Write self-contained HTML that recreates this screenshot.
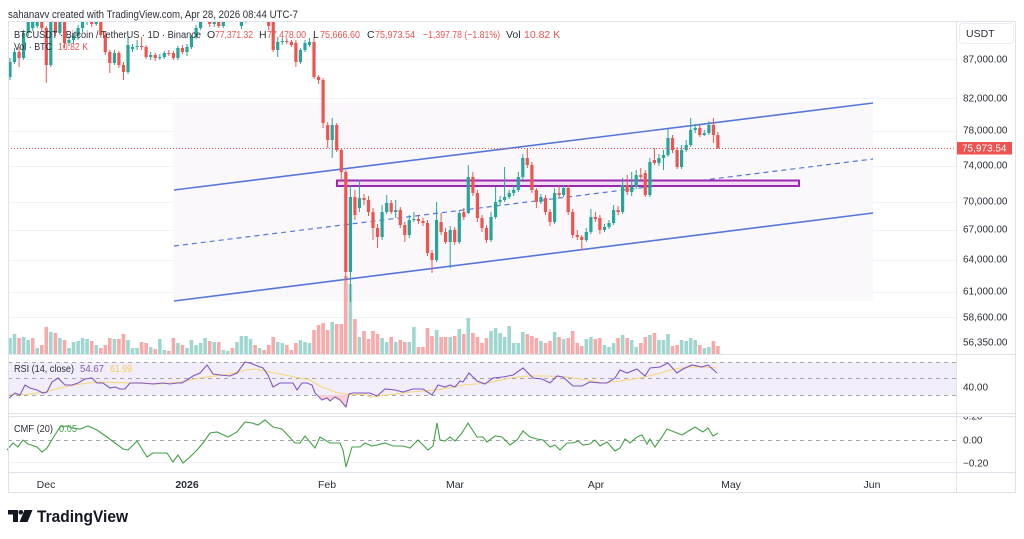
<!DOCTYPE html>
<html><head><meta charset="utf-8"><style>
html,body{margin:0;padding:0;background:#fff;}
svg{display:block;}
text{font-family:"Liberation Sans",Arial,sans-serif;}
</style></head><body>
<svg width="1024" height="539" viewBox="0 0 1024 539" xmlns="http://www.w3.org/2000/svg">
<defs>
<clipPath id="mp"><rect x="8" y="21.5" width="948" height="332.5"/></clipPath>
<clipPath id="cmfax"><rect x="957" y="417" width="60" height="55"/></clipPath>
</defs>
<rect width="1024" height="539" fill="#fff"/>
<text x="8" y="18" font-size="11" fill="#2a2e39" textLength="290" lengthAdjust="spacingAndGlyphs">sahanavv created with TradingView.com, Apr 28, 2026 08:44 UTC-7</text>

<!-- grid -->
<g stroke="#f0f3fa" stroke-width="1">
<path d="M8 59.5H956M8 98.5H956M8 131.5H956M8 166.5H956M8 202.5H956M8 230.5H956M8 260.5H956M8 292.5H956M8 317.5H956M8 462.5H956"/>
</g>

<g clip-path="url(#mp)">
<rect x="173" y="103" width="700" height="198" fill="#fbf8fc"/>
<!-- volume -->
<path fill="#9fd6d0" d="M8.2 338h3.6V354h-3.6zM12.7 334h3.6V354h-3.6zM21.8 337h3.6V354h-3.6zM26.4 340h3.6V354h-3.6zM35.4 348h3.6V354h-3.6zM49 332h3.6V354h-3.6zM58.1 338h3.6V354h-3.6zM67.2 348h3.6V354h-3.6zM71.7 342h3.6V354h-3.6zM76.3 341h3.6V354h-3.6zM80.8 338h3.6V354h-3.6zM85.3 339h3.6V354h-3.6zM94.4 345h3.6V354h-3.6zM112.6 339h3.6V354h-3.6zM126.2 340h3.6V354h-3.6zM130.7 348h3.6V354h-3.6zM135.3 348h3.6V354h-3.6zM148.9 347h3.6V354h-3.6zM158 339h3.6V354h-3.6zM162.5 350h3.6V354h-3.6zM176.1 343h3.6V354h-3.6zM185.2 348h3.6V354h-3.6zM189.7 340h3.6V354h-3.6zM194.3 345h3.6V354h-3.6zM198.8 343h3.6V354h-3.6zM203.3 338h3.6V354h-3.6zM212.4 342h3.6V354h-3.6zM221.5 350h3.6V354h-3.6zM226 351h3.6V354h-3.6zM235.1 342h3.6V354h-3.6zM239.6 336h3.6V354h-3.6zM244.2 336h3.6V354h-3.6zM248.7 339h3.6V354h-3.6zM257.8 348h3.6V354h-3.6zM275.9 342h3.6V354h-3.6zM280.5 343h3.6V354h-3.6zM298.6 340h3.6V354h-3.6zM303.2 342h3.6V354h-3.6zM307.7 343h3.6V354h-3.6zM330.4 322h3.6V354h-3.6zM348.6 284h3.6V354h-3.6zM357.6 337h3.6V354h-3.6zM380.3 338h3.6V354h-3.6zM384.9 342h3.6V354h-3.6zM393.9 342h3.6V354h-3.6zM407.5 342h3.6V354h-3.6zM412.1 327h3.6V354h-3.6zM434.8 330h3.6V354h-3.6zM448.4 337h3.6V354h-3.6zM457.5 329h3.6V354h-3.6zM466.5 318h3.6V354h-3.6zM489.2 331h3.6V354h-3.6zM493.8 328h3.6V354h-3.6zM498.3 333h3.6V354h-3.6zM502.8 337h3.6V354h-3.6zM507.4 326h3.6V354h-3.6zM511.9 343h3.6V354h-3.6zM516.5 343h3.6V354h-3.6zM521 332h3.6V354h-3.6zM539.1 341h3.6V354h-3.6zM552.8 332h3.6V354h-3.6zM561.8 339h3.6V354h-3.6zM584.5 339h3.6V354h-3.6zM589.1 337h3.6V354h-3.6zM602.7 345h3.6V354h-3.6zM607.2 347h3.6V354h-3.6zM611.8 343h3.6V354h-3.6zM620.8 335h3.6V354h-3.6zM629.9 340h3.6V354h-3.6zM634.4 347h3.6V354h-3.6zM648.1 335h3.6V354h-3.6zM657.1 340h3.6V354h-3.6zM661.7 340h3.6V354h-3.6zM666.2 334h3.6V354h-3.6zM679.8 340h3.6V354h-3.6zM684.4 341h3.6V354h-3.6zM688.9 338h3.6V354h-3.6zM693.4 340h3.6V354h-3.6zM702.5 348h3.6V354h-3.6zM707.1 347h3.6V354h-3.6z"/>
<path fill="#f7aaa9" d="M17.3 338h3.6V354h-3.6zM30.9 338h3.6V354h-3.6zM40 345h3.6V354h-3.6zM44.5 327h3.6V354h-3.6zM53.6 333h3.6V354h-3.6zM62.7 340h3.6V354h-3.6zM89.9 341h3.6V354h-3.6zM99 348h3.6V354h-3.6zM103.5 345h3.6V354h-3.6zM108 338h3.6V354h-3.6zM117.1 339h3.6V354h-3.6zM121.7 334h3.6V354h-3.6zM139.8 342h3.6V354h-3.6zM144.3 343h3.6V354h-3.6zM153.4 349h3.6V354h-3.6zM167 351h3.6V354h-3.6zM171.6 338h3.6V354h-3.6zM180.6 345h3.6V354h-3.6zM207.9 341h3.6V354h-3.6zM216.9 342h3.6V354h-3.6zM230.6 348h3.6V354h-3.6zM253.3 345h3.6V354h-3.6zM262.3 350h3.6V354h-3.6zM266.9 345h3.6V354h-3.6zM271.4 337h3.6V354h-3.6zM285 345h3.6V354h-3.6zM289.6 350h3.6V354h-3.6zM294.1 343h3.6V354h-3.6zM312.2 330h3.6V354h-3.6zM316.8 325h3.6V354h-3.6zM321.3 323h3.6V354h-3.6zM325.9 330h3.6V354h-3.6zM334.9 324h3.6V354h-3.6zM339.5 324h3.6V354h-3.6zM344 276h3.6V354h-3.6zM353.1 319h3.6V354h-3.6zM362.2 331h3.6V354h-3.6zM366.7 339h3.6V354h-3.6zM371.2 331h3.6V354h-3.6zM375.8 334h3.6V354h-3.6zM389.4 337h3.6V354h-3.6zM398.5 340h3.6V354h-3.6zM403 342h3.6V354h-3.6zM416.6 347h3.6V354h-3.6zM421.2 347h3.6V354h-3.6zM425.7 328h3.6V354h-3.6zM430.2 336h3.6V354h-3.6zM439.3 337h3.6V354h-3.6zM443.8 337h3.6V354h-3.6zM452.9 336h3.6V354h-3.6zM462 334h3.6V354h-3.6zM471.1 333h3.6V354h-3.6zM475.6 337h3.6V354h-3.6zM480.2 343h3.6V354h-3.6zM484.7 338h3.6V354h-3.6zM525.5 334h3.6V354h-3.6zM530.1 336h3.6V354h-3.6zM534.6 338h3.6V354h-3.6zM543.7 343h3.6V354h-3.6zM548.2 341h3.6V354h-3.6zM557.3 337h3.6V354h-3.6zM566.4 338h3.6V354h-3.6zM570.9 331h3.6V354h-3.6zM575.5 343h3.6V354h-3.6zM580 346h3.6V354h-3.6zM593.6 339h3.6V354h-3.6zM598.1 338h3.6V354h-3.6zM616.3 338h3.6V354h-3.6zM625.4 338h3.6V354h-3.6zM639 343h3.6V354h-3.6zM643.5 337h3.6V354h-3.6zM652.6 333h3.6V354h-3.6zM670.7 346h3.6V354h-3.6zM675.3 345h3.6V354h-3.6zM698 345h3.6V354h-3.6zM711.6 341h3.6V354h-3.6zM716.1 346h3.6V354h-3.6z"/>

<!-- channel -->
<path d="M174 190L873 103M174 301L873 213" stroke="#5477db" stroke-width="1.6" fill="none"/>
<path d="M174 246L873 159" stroke="#5477db" stroke-width="1.2" stroke-dasharray="5 4" fill="none"/>
<rect x="337" y="180.5" width="462" height="5.5" fill="#f3dcf4" stroke="#9c27b0" stroke-width="2"/>

<!-- wicks -->
<path stroke="#26a69a" stroke-width="1" fill="none" d="M10 58V80M14.5 48V64M23.6 30V60M28.2 10V36M32.7 16V31M37.2 8V28M50.8 12V67M59.9 18V35M69 36V46M73.5 33V44M78.1 25V40M82.6 18V32M87.1 10V25M96.2 12V26M114.4 50V65M128 37V74M132.5 44V52M137.1 40V50M150.7 52V60M159.8 54V60M164.3 51V59M177.9 46V60M187 44V56M191.5 35V49M196.1 25V39M200.6 15V30M205.1 8V22M214.2 16V27M223.3 10V28M227.8 4V18M236.9 2V15M241.4 16V29M246 8V23M250.5 2V15M259.6 0V12M277.7 38V57M282.3 38V45M300.4 48V64M305 40V52M309.5 38V47M332.2 118V158M350.4 185V302M359.4 180V212M382.1 205V240M386.7 195V214M395.7 200V218M409.3 215V238M413.9 212V222M436.6 202V262M450.2 226V268M459.3 210V244M468.3 165V214M491 212V242M495.6 187V219M500.1 196V205M504.6 167V202M509.2 190V199M513.7 186V196M518.3 172V192M522.8 154V180M540.9 194V204M554.6 188V224M563.6 185V197M586.3 228V242M590.9 209V234M604.5 224V232M609 220V229M613.6 205V225M622.6 178V214M631.7 172V196M636.2 170V189M649.9 158V197M658.9 154V166M663.5 150V170M668 129V157M681.6 145V169M686.2 140V152M690.7 118V147M695.2 124V133M704.3 130V136M708.9 121V135"/>
<path stroke="#ef5350" stroke-width="1" fill="none" d="M19.1 47V67M41.8 10V31M46.3 26V83M55.4 15V36M64.5 20V48M91.7 12V27M100.8 14V38M105.3 32V55M109.8 50V73M118.9 51V68M123.5 62V80M141.6 37V50M146.1 45V59M155.2 53V61M168.8 50V56M173.4 51V60M182.4 45V54M209.7 10V27M218.7 16V28M232.4 4V16M255.1 2V14M264.1 0V12M268.7 6V30M273.2 12V52M286.8 38V44M291.4 40V47M295.9 40V67M314 37V79M318.6 75V84M323.1 78V128M327.7 122V148M336.7 123V152M341.3 148V182M345.8 170V280M354.9 190V220M364 194V205M368.5 196V216M373 208V240M377.6 224V248M391.2 200V214M400.3 207V228M404.8 222V242M418.4 215V224M423 218V226M427.5 220V256M432 250V273M441.1 213V235M445.6 228V244M454.7 227V245M463.8 208V220M472.9 172V196M477.4 190V222M482 215V232M486.5 225V243M527.3 148V168M531.9 162V193M536.4 188V208M545.5 195V215M550 209V226M559.1 186V198M568.2 185V215M572.7 209V238M577.3 230V240M581.8 235V250M595.4 212V222M599.9 215V234M618.1 206V215M627.2 175V195M640.8 168V180M645.3 170V197M654.4 148V165M672.5 135V153M677.1 147V169M699.8 125V137M713.4 118V143M717.9 132V149"/>
<!-- bodies -->
<path fill="#26a69a" d="M8.4 62h3.2V77h-3.2zM12.9 52h3.2V62h-3.2zM22 33h3.2V58h-3.2zM26.6 18h3.2V33h-3.2zM31.1 21h3.2V28h-3.2zM35.6 14h3.2V26h-3.2zM49.2 18h3.2V65h-3.2zM58.3 22h3.2V33h-3.2zM67.4 40h3.2V43h-3.2zM71.9 36h3.2V40h-3.2zM76.5 28h3.2V36h-3.2zM81 22h3.2V28h-3.2zM85.5 15h3.2V22h-3.2zM94.6 16h3.2V24h-3.2zM112.8 53h3.2V63h-3.2zM126.4 45h3.2V72h-3.2zM130.9 47h3.2V49h-3.2zM135.5 46h3.2V47h-3.2zM149.1 55h3.2V57h-3.2zM158.2 57h3.2V58h-3.2zM162.7 53h3.2V57h-3.2zM176.3 48h3.2V58h-3.2zM185.4 47h3.2V52h-3.2zM189.9 37h3.2V47h-3.2zM194.5 28h3.2V37h-3.2zM199 19h3.2V28h-3.2zM203.5 14h3.2V19h-3.2zM212.6 20h3.2V24h-3.2zM221.7 14h3.2V26h-3.2zM226.2 8h3.2V14h-3.2zM235.3 6h3.2V12h-3.2zM239.8 20h3.2V26h-3.2zM244.4 12h3.2V20h-3.2zM248.9 6h3.2V12h-3.2zM258 4h3.2V10h-3.2zM276.1 42h3.2V50h-3.2zM280.7 41h3.2V42h-3.2zM298.8 50h3.2V62h-3.2zM303.4 43h3.2V50h-3.2zM307.9 42h3.2V45h-3.2zM330.6 125h3.2V140h-3.2zM348.8 197h3.2V272h-3.2zM357.8 198h3.2V208h-3.2zM380.5 212h3.2V237h-3.2zM385.1 203h3.2V212h-3.2zM394.1 210h3.2V212h-3.2zM407.7 220h3.2V235h-3.2zM412.3 219h3.2V220h-3.2zM435 220h3.2V260h-3.2zM448.6 230h3.2V242h-3.2zM457.7 213h3.2V242h-3.2zM466.7 177h3.2V213h-3.2zM489.4 217h3.2V240h-3.2zM494 202h3.2V217h-3.2zM498.5 200h3.2V202h-3.2zM503 197h3.2V200h-3.2zM507.6 193h3.2V197h-3.2zM512.1 190h3.2V193h-3.2zM516.7 177h3.2V190h-3.2zM521.2 158h3.2V177h-3.2zM539.3 197h3.2V202h-3.2zM553 193h3.2V222h-3.2zM562 188h3.2V195h-3.2zM584.7 232h3.2V240h-3.2zM589.3 217h3.2V232h-3.2zM602.9 227h3.2V230h-3.2zM607.4 223h3.2V227h-3.2zM612 210h3.2V223h-3.2zM621 185h3.2V212h-3.2zM630.1 187h3.2V192h-3.2zM634.6 175h3.2V187h-3.2zM648.3 162h3.2V195h-3.2zM657.3 158h3.2V163h-3.2zM661.9 155h3.2V158h-3.2zM666.4 138h3.2V155h-3.2zM680 150h3.2V167h-3.2zM684.6 145h3.2V150h-3.2zM689.1 130h3.2V145h-3.2zM693.6 128h3.2V130h-3.2zM702.7 133h3.2V135h-3.2zM707.3 125h3.2V133h-3.2z"/>
<path fill="#ef5350" d="M17.5 52h3.2V58h-3.2zM40.2 14h3.2V28h-3.2zM44.7 28h3.2V65h-3.2zM53.8 18h3.2V33h-3.2zM62.9 22h3.2V43h-3.2zM90.1 15h3.2V24h-3.2zM99.2 16h3.2V35h-3.2zM103.7 35h3.2V52h-3.2zM108.2 52h3.2V63h-3.2zM117.3 53h3.2V65h-3.2zM121.9 65h3.2V72h-3.2zM140 46h3.2V47h-3.2zM144.5 47h3.2V57h-3.2zM153.6 55h3.2V58h-3.2zM167.2 53h3.2V54h-3.2zM171.8 53h3.2V58h-3.2zM180.8 48h3.2V52h-3.2zM208.1 14h3.2V24h-3.2zM217.1 20h3.2V26h-3.2zM230.8 8h3.2V12h-3.2zM253.5 6h3.2V10h-3.2zM262.5 4h3.2V8h-3.2zM267.1 10h3.2V26h-3.2zM271.6 16h3.2V50h-3.2zM285.2 41h3.2V42h-3.2zM289.8 42h3.2V45h-3.2zM294.3 43h3.2V62h-3.2zM312.4 42h3.2V77h-3.2zM317 77h3.2V80h-3.2zM321.5 80h3.2V123h-3.2zM326.1 125h3.2V140h-3.2zM335.1 125h3.2V150h-3.2zM339.7 150h3.2V172h-3.2zM344.2 172h3.2V272h-3.2zM353.3 197h3.2V215h-3.2zM362.4 198h3.2V200h-3.2zM366.9 200h3.2V212h-3.2zM371.4 212h3.2V228h-3.2zM376 228h3.2V237h-3.2zM389.6 203h3.2V212h-3.2zM398.7 210h3.2V225h-3.2zM403.2 225h3.2V235h-3.2zM416.8 219h3.2V221h-3.2zM421.4 221h3.2V223h-3.2zM425.9 223h3.2V253h-3.2zM430.4 253h3.2V260h-3.2zM439.5 222h3.2V232h-3.2zM444 232h3.2V242h-3.2zM453.1 230h3.2V242h-3.2zM462.2 212h3.2V217h-3.2zM471.3 177h3.2V193h-3.2zM475.8 193h3.2V218h-3.2zM480.4 218h3.2V228h-3.2zM484.9 228h3.2V240h-3.2zM525.7 158h3.2V165h-3.2zM530.3 165h3.2V190h-3.2zM534.8 190h3.2V202h-3.2zM543.9 198h3.2V212h-3.2zM548.4 212h3.2V222h-3.2zM557.5 193h3.2V195h-3.2zM566.6 188h3.2V212h-3.2zM571.1 212h3.2V235h-3.2zM575.7 235h3.2V237h-3.2zM580.2 237h3.2V240h-3.2zM593.8 217h3.2V219h-3.2zM598.3 218h3.2V230h-3.2zM616.5 210h3.2V212h-3.2zM625.6 185h3.2V192h-3.2zM639.2 175h3.2V177h-3.2zM643.7 173h3.2V195h-3.2zM652.8 160h3.2V163h-3.2zM670.9 138h3.2V150h-3.2zM675.5 150h3.2V167h-3.2zM698.2 128h3.2V135h-3.2zM711.8 125h3.2V135h-3.2zM716.3 135h3.2V148h-3.2z"/>
<!-- price line -->
<path d="M8 148.5H956" stroke="#ef5350" stroke-width="1" stroke-dasharray="1 2"/>
</g>

<!-- legend -->
<g font-size="10.5">
<text x="14" y="38" fill="#2a2e39" textLength="187" lengthAdjust="spacingAndGlyphs">BTCUSDT · Bitcoin / TetherUS · 1D · Binance</text>
<text x="207" y="38" fill="#2a2e39">O</text><text x="215" y="38" fill="#ef5350" textLength="38" lengthAdjust="spacingAndGlyphs">77,371.32</text>
<text x="259" y="38" fill="#2a2e39">H</text><text x="267" y="38" fill="#ef5350" textLength="39" lengthAdjust="spacingAndGlyphs">77,478.00</text>
<text x="313" y="38" fill="#2a2e39">L</text><text x="320" y="38" fill="#ef5350" textLength="40" lengthAdjust="spacingAndGlyphs">75,666.60</text>
<text x="367" y="38" fill="#2a2e39">C</text><text x="375" y="38" fill="#ef5350" textLength="40" lengthAdjust="spacingAndGlyphs">75,973.54</text>
<text x="423" y="38" fill="#ef5350" textLength="77" lengthAdjust="spacingAndGlyphs">−1,397.78 (−1.81%)</text>
<text x="506" y="38" fill="#2a2e39">Vol</text><text x="524" y="38" fill="#ef5350">10.82 K</text>
<text x="14" y="50" fill="#2a2e39" textLength="38" lengthAdjust="spacingAndGlyphs">Vol · BTC</text>
<text x="58" y="50" fill="#ef5350" textLength="30" lengthAdjust="spacingAndGlyphs">10.82 K</text>
</g>

<!-- RSI pane -->
<rect x="8" y="362" width="948" height="33" fill="#f2eef9"/>
<path d="M8 362.5H956M8 378.5H956M8 395.5H956M8 440.5H956" stroke="#a3a6af" stroke-width="1" stroke-dasharray="4 4"/>
<polygon points="318,395 322,400 327,398 330,401 335,397 340,400 346,407 348.5,395" fill="#f8cfd4"/>
<polyline fill="none" stroke="#f7d57a" stroke-width="1.1" points="8,394 22,395 45,392 60,388 80,384 100,382 130,383 160,384 180,382 200,378 230,374 245,370 255,369 270,372 290,376 310,380 320,386 335,392 350,395 365,394 370,397 387,395 410,392 437,390 463,385 487,383 510,378 527,376 547,376 567,377 587,380 603,383 620,381 640,378 657,374 670,370 687,367 703,367 717,368"/>
<polyline fill="none" stroke="#7e57c2" stroke-width="1.1" points="8,399 15,393 20,395 25,385 30,388 37,390 43,393 47,392 52,382 58,378 65,385 72,385 78,383 85,379 92,378 97,383 103,383 110,388 115,387 120,389 125,389 130,383 137,383 143,383 153,384 163,383 170,384 177,383 182,383 187,380 193,376 200,373 207,365 213,374 220,375 230,376 237,373 245,362 250,363 255,365 263,368 268,375 273,387 280,383 293,383 297,390 302,383 307,383 312,385 315,393 322,400 327,398 330,401 335,397 340,400 346,407 349,394 353,393 360,393 367,393 370,393 377,396 385,389 395,390 403,392 413,389 423,389 432,395 438,385 445,387 450,385 455,387 460,381 463,382 469,373 477,381 485,384 493,378 503,377 513,375 523,368 533,378 542,379 550,383 557,376 563,377 573,386 582,386 590,382 600,383 607,383 615,378 620,370 627,373 637,369 645,376 650,368 660,367 668,363 677,373 683,369 692,365 702,367 708,365 717,373"/>
<text x="14" y="372" font-size="10.5" fill="#2a2e39" textLength="60" lengthAdjust="spacingAndGlyphs">RSI (14, close)</text>
<text x="80" y="372" font-size="10.5" fill="#7e57c2" textLength="24" lengthAdjust="spacingAndGlyphs">54.67</text>
<text x="110" y="372" font-size="10.5" fill="#f5cd5a" textLength="22" lengthAdjust="spacingAndGlyphs">61.99</text>

<!-- CMF -->
<polyline fill="none" stroke="#43a047" stroke-width="1.1" points="7,450 13,443 18,447 23,440 28,444 37,447 42,452 47,448 53,438 60,427 67,426 72,428 80,429 88,426 97,430 107,437 115,443 123,449 128,450 137,441 147,457 153,453 160,453 167,453 173,462 178,455 183,463 190,457 197,450 203,443 210,433 217,432 228,437 237,432 245,422 252,423 258,425 265,420 273,427 282,429 295,443 300,443 305,436 315,448 320,437 330,443 340,443 343,450 346,467 352,447 360,447 365,443 372,446 377,445 385,443 393,446 403,446 410,448 418,440 428,450 433,446 437,423 440,440 445,441 450,437 455,441 462,433 468,423 477,437 483,437 487,442 495,436 502,437 510,445 517,440 523,431 530,437 537,439 543,440 550,447 555,445 560,450 567,443 573,443 578,441 583,445 590,444 595,440 600,446 607,442 615,451 620,448 625,439 630,443 637,437 642,435 647,444 650,439 655,447 662,437 667,429 682,435 695,427 703,432 708,428 713,436 718,433"/>
<text x="14" y="432" font-size="10.5" fill="#2a2e39" textLength="39" lengthAdjust="spacingAndGlyphs">CMF (20)</text>
<text x="59" y="432" font-size="10.5" fill="#43a047" textLength="18" lengthAdjust="spacingAndGlyphs">0.05</text>

<!-- frame -->
<g stroke="#e0e3eb" stroke-width="1" fill="none">
<rect x="8.5" y="21.5" width="1007" height="471"/>
<path d="M956.5 21V493M8 354.5H1016M8 413.5H1016M8 416.5H1016M8 472.5H1016"/>
</g>
<rect x="959.5" y="23.5" width="54" height="20" rx="3" fill="#fff" stroke="#eceef2"/>
<text x="966" y="37" font-size="10.5" fill="#2a2e39">USDT</text>

<!-- price axis -->
<g font-size="10" fill="#2a2e39">
<text x="963" y="62.5">87,000.00</text>
<text x="963" y="101.5">82,000.00</text>
<text x="963" y="133.5">78,000.00</text>
<text x="963" y="168.5">74,000.00</text>
<text x="963" y="204.5">70,000.00</text>
<text x="963" y="232.5">67,000.00</text>
<text x="963" y="262.5">64,000.00</text>
<text x="963" y="294.5">61,000.00</text>
<text x="963" y="320.5">58,600.00</text>
<text x="963" y="345.5">56,350.00</text>
<text x="963" y="390.5">40.00</text>
<g clip-path="url(#cmfax)"><text x="963" y="419.5">0.20</text></g>
<text x="963" y="443.5">0.00</text>
<text x="963" y="466.5">−0.20</text>
</g>
<rect x="957" y="142" width="55" height="12.5" fill="#ef5350"/>
<text x="962" y="151.5" font-size="10" fill="#fff">75,973.54</text>

<!-- time axis -->
<g font-size="10.5" fill="#2a2e39" text-anchor="middle">
<text x="46" y="488">Dec</text>
<text x="187" y="488" font-weight="bold">2026</text>
<text x="327" y="488">Feb</text>
<text x="455" y="488">Mar</text>
<text x="596" y="488">Apr</text>
<text x="731" y="488">May</text>
<text x="872" y="488">Jun</text>
</g>

<!-- logo -->
<g fill="#131722">
<path d="M8 510H18V522H13V514.5H8Z"/>
<circle cx="20.8" cy="512.3" r="2.3"/>
<polygon points="24.5,510 32.5,510 27.5,522 19.5,522"/>
</g>
<text x="37" y="522" font-size="17" font-weight="bold" fill="#131722" textLength="91" lengthAdjust="spacingAndGlyphs">TradingView</text>
</svg>
</body></html>
